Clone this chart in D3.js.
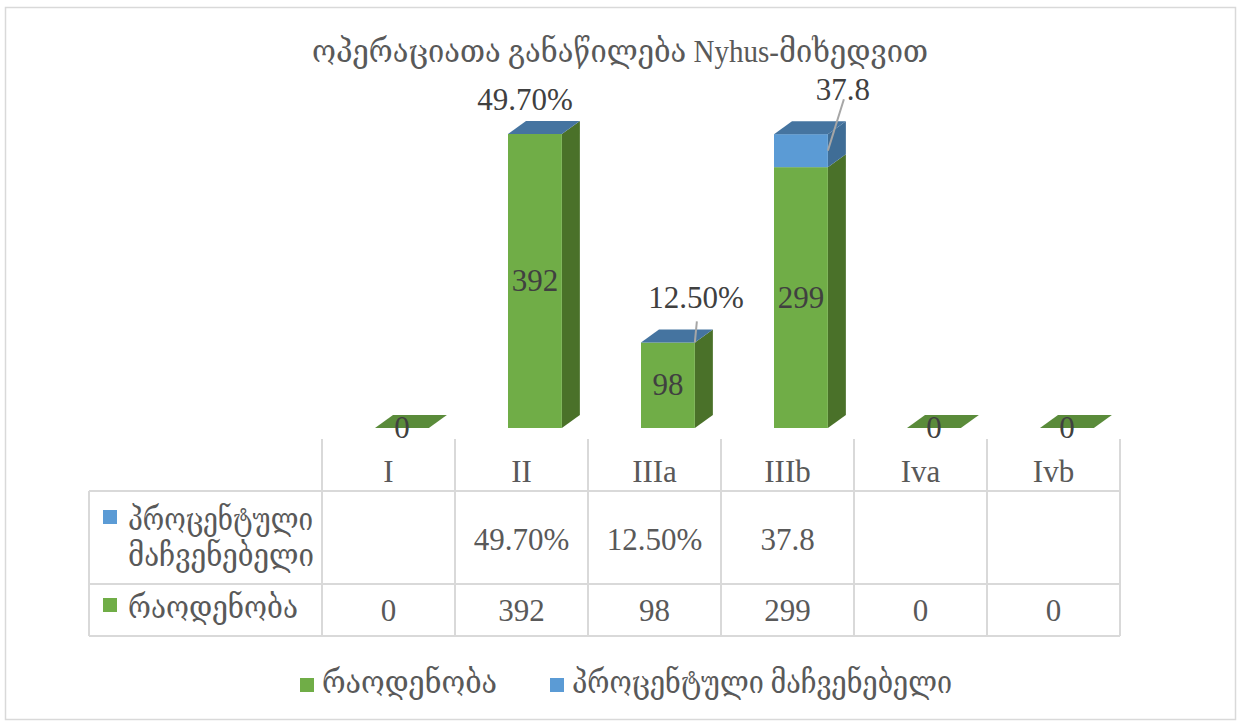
<!DOCTYPE html>
<html>
<head>
<meta charset="utf-8">
<script src="https://cdn.jsdelivr.net/npm/d3@7"></script>
<style>
  html, body { margin: 0; padding: 0; background: #fff; }
  svg text { font-family: "Liberation Serif", "DejaVu Serif", serif; }
</style>
</head>
<body>
<svg id="chart" width="1238" height="724"></svg>
<script>
// Nyhus classification: operations per category
const chartTitle = "ოპერაციათა განაწილება Nyhus-მიხედვით";
const categories = ["I", "II", "IIIa", "IIIb", "Iva", "Ivb"];
const countValues = [0, 392, 98, 299, 0, 0];
const percentValues = [null, 0.497, 0.125, 37.8, null, null];
const seriesNames = ["რაოდენობა", "პროცენტული მაჩვენებელი"];
const tableRowLabels = [["პროცენტული", "მაჩვენებელი"], ["რაოდენობა"]];
const valueMax = 337; // fixed top of the value axis

const svg = d3.select("#chart");

const C = {
  greenFront: "#70ad47", greenSide: "#4a7129", greenTop: "#5a8b3a",
  blueFront: "#5b9bd5", blueSide: "#3f6d96", blueTop: "#4574a0",
  text: "#595959", label: "#404040", grid: "#d9d9d9", leader: "#a6a6a6"
};

const fmtPct = v => v < 1 ? d3.format(".2%")(v) : String(v);

// outer chart frame
svg.append("rect").attr("x", 5.5).attr("y", 7.5).attr("width", 1230).attr("height", 712)
  .attr("fill", "#fff").attr("stroke", C.grid).attr("stroke-width", 1.5);

// title
svg.append("text").attr("x", 620).attr("y", 62).attr("text-anchor", "middle")
  .attr("font-size", 32).attr("fill", C.text)
  .attr("textLength", 616).attr("lengthAdjust", "spacingAndGlyphs")
  .text(chartTitle);

// scales
const x = d3.scaleBand().domain(categories).range([322, 1120]).padding(0);
const y = d3.scaleLinear().domain([0, valueMax]).range([428, 134]).clamp(true);
const bw = x.bandwidth() * 0.405;
const frontLeft = c => x(c) + x.bandwidth() / 2 - 13.5;
const DX = 18, DY = 13;

const rows = categories.map((c, i) => ({
  cat: c, count: countValues[i], pct: percentValues[i]
}));

const plot = svg.append("g");

function sideFace(g, x0, yTop, yBot, fill) {
  const x1 = x0 + bw;
  g.append("path").attr("fill", fill)
    .attr("d", `M${x1},${yBot}L${x1 + DX},${yBot - DY}L${x1 + DX},${yTop - DY}L${x1},${yTop}Z`);
}
function topFace(g, x0, yTop, fill) {
  const x1 = x0 + bw;
  g.append("path").attr("fill", fill)
    .attr("d", `M${x0},${yTop}L${x0 + DX},${yTop - DY}L${x1 + DX},${yTop - DY}L${x1},${yTop}Z`);
}

rows.forEach(d => {
  const g = plot.append("g");
  const x0 = frontLeft(d.cat);
  const base = y(0);
  const gTop = y(d.count);
  const total = d.count + (d.pct || 0);
  const bTop = y(total);
  if (gTop < base) {
    sideFace(g, x0, gTop, base, C.greenSide);
    g.append("rect").attr("x", x0).attr("y", gTop).attr("width", bw).attr("height", base - gTop)
      .attr("fill", C.greenFront);
  }
  if (d.pct != null && bTop < gTop) {
    sideFace(g, x0, bTop, gTop, C.blueSide);
    g.append("rect").attr("x", x0).attr("y", bTop).attr("width", bw).attr("height", gTop - bTop)
      .attr("fill", C.blueFront);
  }
  topFace(g, x0, d.pct != null ? bTop : gTop, d.pct != null ? C.blueTop : C.greenTop);

  // count label, centred on the green segment
  const cx = x0 + bw / 2;
  g.append("text").attr("x", cx).attr("y", (gTop + base) / 2 + 10)
    .attr("text-anchor", "middle").attr("font-size", 31).attr("fill", C.label)
    .text(d.count);
});

// percentage labels placed above each column, with leader lines where moved
const pctLabelNudge = [null, {dx: -10, dy: -24, leader: null},
  {dx: 28, dy: -34, leader: [0, 2, -21]},
  {dx: 42, dy: -34, leader: [0.5, 16, -35]}, null, null];
rows.forEach((d, i) => {
  if (d.pct == null) return;
  const n = pctLabelNudge[i];
  const x0 = frontLeft(d.cat);
  const top = y(d.count + d.pct);
  const gTop = y(d.count);
  if (n.leader) {
    const lx = x0 + bw;
    const ly = top + (gTop - top) * n.leader[0];
    plot.append("line").attr("x1", lx).attr("y1", ly)
      .attr("x2", lx + n.leader[1]).attr("y2", top + n.leader[2])
      .attr("stroke", C.leader).attr("stroke-width", 2);
  }
  plot.append("text").attr("x", x0 + bw / 2 + n.dx).attr("y", top + n.dy)
    .attr("text-anchor", "middle").attr("font-size", 31).attr("fill", C.label)
    .text(fmtPct(d.pct));
});

// data table
const tbl = svg.append("g").attr("stroke", C.grid).attr("stroke-width", 2);
const tLeft = 89, tTop = 491, hTop = 439, r1 = 584, tBot = 636;
const colEdges = categories.map(c => x(c)).concat([x.range()[1]]);
colEdges.forEach(cx => tbl.append("line").attr("x1", cx).attr("x2", cx).attr("y1", hTop).attr("y2", tBot));
tbl.append("line").attr("x1", tLeft).attr("x2", tLeft).attr("y1", tTop).attr("y2", tBot);
[tTop, r1, tBot].forEach(yy => tbl.append("line").attr("x1", tLeft).attr("x2", 1120).attr("y1", yy).attr("y2", yy));

const tText = svg.append("g").attr("fill", C.text).attr("font-size", 31).attr("text-anchor", "middle");
categories.forEach(c => tText.append("text").attr("x", x(c) + x.bandwidth() / 2).attr("y", 482).text(c));
rows.forEach(d => {
  const cx = x(d.cat) + x.bandwidth() / 2;
  if (d.pct != null) tText.append("text").attr("x", cx).attr("y", 550).text(fmtPct(d.pct));
  tText.append("text").attr("x", cx).attr("y", 621).text(d.count);
});

// row headers with series keys
const rowKeys = [C.blueFront, C.greenFront];
const rowLines = [[530, 566], [618]];
const rowWidths = [[185, 186], [170]];
tableRowLabels.forEach((lines, r) => {
  svg.append("rect").attr("x", 103).attr("y", rowLines[r][0] - 20).attr("width", 14).attr("height", 14)
    .attr("fill", rowKeys[r]);
  lines.forEach((t, k) => {
    svg.append("text").attr("x", 128).attr("y", rowLines[r][k]).attr("font-size", 31)
      .attr("fill", C.text).attr("textLength", rowWidths[r][k]).attr("lengthAdjust", "spacingAndGlyphs")
      .text(t);
  });
});

// legend
const legend = [{name: seriesNames[0], color: C.greenFront, x: 300, w: 175},
                {name: seriesNames[1], color: C.blueFront, x: 550, w: 380}];
legend.forEach(l => {
  svg.append("rect").attr("x", l.x).attr("y", 678).attr("width", 14).attr("height", 14).attr("fill", l.color);
  svg.append("text").attr("x", l.x + 22).attr("y", 693).attr("font-size", 31).attr("fill", C.text)
    .attr("textLength", l.w).attr("lengthAdjust", "spacingAndGlyphs").text(l.name);
});
</script>
</body>
</html>
